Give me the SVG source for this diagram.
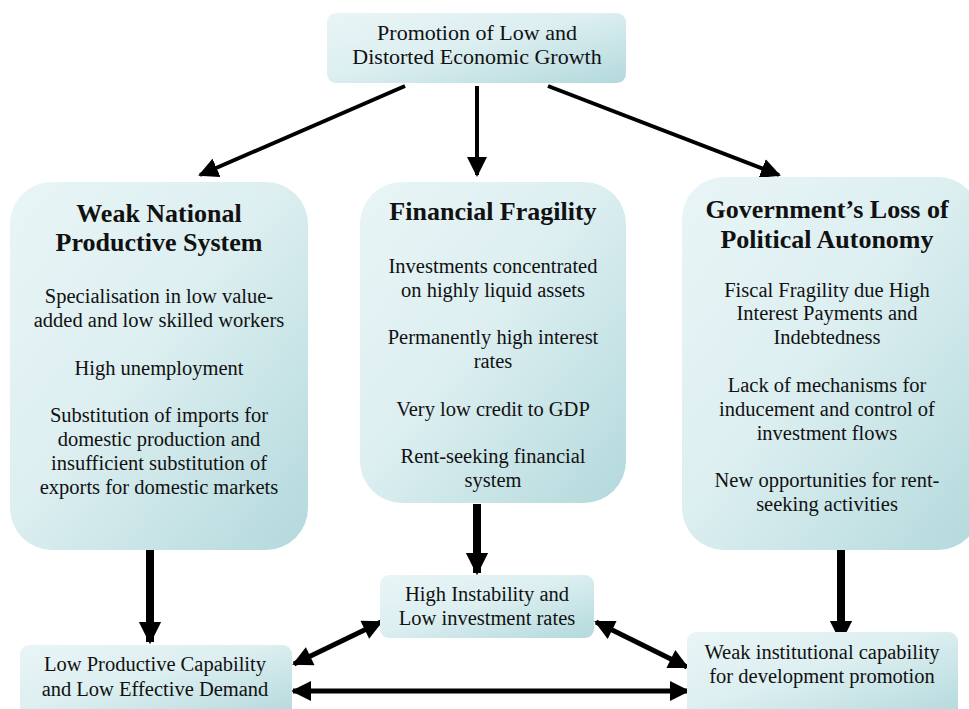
<svg xmlns="http://www.w3.org/2000/svg" width="969" height="709" viewBox="0 0 969 709">
  <defs>
    <linearGradient id="boxFill" x1="0" y1="0" x2="1" y2="1">
      <stop offset="0" stop-color="#e9f5f6"/>
      <stop offset="0.45" stop-color="#ddeff1"/>
      <stop offset="1" stop-color="#b3d9dc"/>
    </linearGradient>
    <marker id="headThin" viewBox="0 0 10 10" refX="9" refY="5" markerWidth="5" markerHeight="5" orient="auto" markerUnits="strokeWidth">
      <path d="M0,0 L10,5 L0,10 z" fill="#000"/>
    </marker>
    <marker id="headThick" viewBox="0 0 10 10" refX="9" refY="5" markerWidth="2.8" markerHeight="3.1" orient="auto" markerUnits="strokeWidth">
      <path d="M0,0 L10,5 L0,10 z" fill="#000"/>
    </marker>
    <marker id="headBi" viewBox="0 0 10 10" refX="9" refY="5" markerWidth="4.4" markerHeight="4" orient="auto-start-reverse" markerUnits="strokeWidth">
      <path d="M0,0 L10,5 L0,10 z" fill="#000"/>
    </marker>
  </defs>
  <style>
    .box { fill: url(#boxFill); stroke: none; }
    text { font-family: "Liberation Serif", "Times New Roman", serif; fill: #111; text-anchor: middle; }
    .title { font-size: 26px; font-weight: bold; }
    .body { font-size: 20.5px; }
    .head { font-size: 22px; }
    .thin { stroke: #000; stroke-width: 4; fill: none; marker-end: url(#headThin); }
    .thick { stroke: #000; stroke-width: 8; fill: none; marker-end: url(#headThick); }
    .bi { stroke: #000; stroke-width: 5; fill: none; marker-start: url(#headBi); marker-end: url(#headBi); }
  </style>

  <!-- connectors -->
  <g id="connectors">
    <line class="thin" x1="405" y1="86" x2="200" y2="175"/>
    <line class="thin" x1="477" y1="86" x2="477" y2="175"/>
    <line class="thin" x1="548" y1="86" x2="779" y2="175"/>
    <line class="thick" x1="150" y1="550" x2="150" y2="642"/>
    <line class="thick" x1="477" y1="504" x2="477" y2="573"/>
    <line class="thick" x1="841" y1="550" x2="841" y2="641"/>
    <line class="bi" x1="294" y1="664" x2="381" y2="622"/>
    <line class="bi" x1="596" y1="622" x2="687" y2="667"/>
    <line class="bi" x1="293" y1="691" x2="688" y2="691"/>
  </g>

  <g id="growth">
    <rect class="box" x="327" y="13" width="299" height="70" rx="9"/>
    <text class="head" x="477" y="40">Promotion of Low and</text>
    <text class="head" x="477" y="64">Distorted Economic Growth</text>
  </g>

  <g id="productive-system">
    <rect class="box" x="10" y="182" width="298" height="368" rx="42"/>
    <text class="title" x="159" y="222">Weak National</text>
    <text class="title" x="159" y="251">Productive System</text>
    <text class="body" x="159" y="303">Specialisation in low value-</text>
    <text class="body" x="159" y="327">added and low skilled workers</text>
    <text class="body" x="159" y="375">High unemployment</text>
    <text class="body" x="159" y="422">Substitution of imports for</text>
    <text class="body" x="159" y="446">domestic production and</text>
    <text class="body" x="159" y="470">insufficient substitution of</text>
    <text class="body" x="159" y="494">exports for domestic markets</text>
  </g>

  <g id="financial-fragility">
    <rect class="box" x="360" y="182" width="266" height="321" rx="42"/>
    <text class="title" x="493" y="220">Financial Fragility</text>
    <text class="body" x="493" y="273">Investments concentrated</text>
    <text class="body" x="493" y="297">on highly liquid assets</text>
    <text class="body" x="493" y="344">Permanently high interest</text>
    <text class="body" x="493" y="368">rates</text>
    <text class="body" x="493" y="416">Very low credit to GDP</text>
    <text class="body" x="493" y="463">Rent-seeking financial</text>
    <text class="body" x="493" y="487">system</text>
  </g>

  <g id="political-autonomy">
    <rect class="box" x="682" y="177" width="298" height="373" rx="42"/>
    <text class="title" x="827" y="218">Government’s Loss of</text>
    <text class="title" x="827" y="248">Political Autonomy</text>
    <text class="body" x="827" y="297">Fiscal Fragility due High</text>
    <text class="body" x="827" y="320">Interest Payments and</text>
    <text class="body" x="827" y="344">Indebtedness</text>
    <text class="body" x="827" y="392">Lack of mechanisms for</text>
    <text class="body" x="827" y="416">inducement and control of</text>
    <text class="body" x="827" y="440">investment flows</text>
    <text class="body" x="827" y="487">New opportunities for rent-</text>
    <text class="body" x="827" y="511">seeking activities</text>
  </g>

  <g id="low-capability">
    <rect class="box" x="20" y="645" width="272" height="72" rx="9"/>
    <text class="body" x="155" y="671">Low Productive Capability</text>
    <text class="body" x="155" y="696">and Low Effective Demand</text>
  </g>

  <g id="instability">
    <rect class="box" x="380" y="575" width="214" height="63" rx="9"/>
    <text class="body" x="487" y="601">High Instability and</text>
    <text class="body" x="487" y="625">Low investment rates</text>
  </g>

  <g id="institutional">
    <rect class="box" x="687" y="632" width="271" height="85" rx="9"/>
    <text class="body" x="822" y="659">Weak institutional capability</text>
    <text class="body" x="822" y="683">for development promotion</text>
  </g>
</svg>
